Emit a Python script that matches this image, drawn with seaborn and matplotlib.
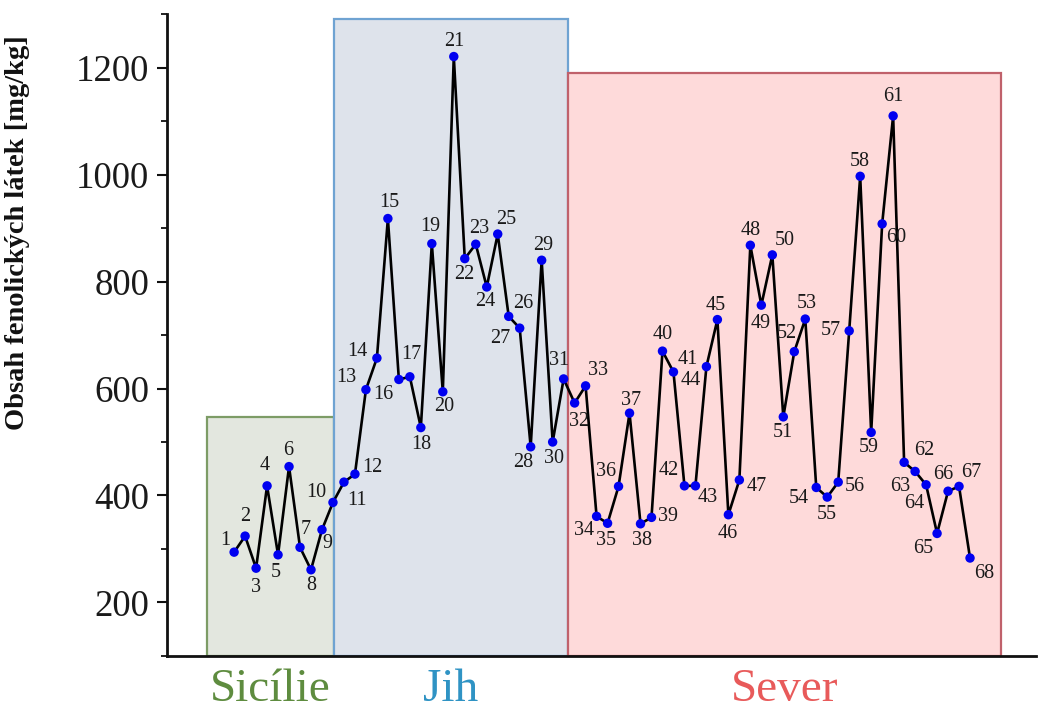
import matplotlib
matplotlib.use("Agg")
import matplotlib.pyplot as plt
from matplotlib.patches import Rectangle
from matplotlib.ticker import MultipleLocator
import seaborn as sns
import pandas as pd

# Phenolic content of 68 samples [mg/kg]
samples = list(range(1, 69))
phenolics = [294, 324, 264, 418, 289, 454, 303, 261, 336, 387,
             425, 440, 598, 657, 918, 617, 622, 527, 871, 594,
             1221, 843, 870, 790, 889, 735, 713, 491, 840, 500,
             618, 573, 605, 361, 348, 417, 554, 347, 359, 670,
             631, 418, 418, 641, 729, 364, 429, 868, 756, 850,
             547, 669, 730, 415, 397, 425, 708, 997, 518, 908,
             1110, 462, 445, 420, 329, 408, 417, 283]

# Regions: name, x-extent (sample axis), height of the shaded block
regions = ["Sicílie", "Jih", "Sever"]
region_x0 = [-1.46, 10.1, 31.4]
region_x1 = [10.1, 31.4, 70.8]
region_top = [547, 1292, 1191]
region_fill = ["#e3e7df", "#dee3eb", "#fedada"]
region_edge = ["#7d9c66", "#6fa3d2", "#c0616b"]
region_text = ["#5e8c3f", "#2f93c4", "#e85a5a"]

# label placement around each point (pixels: right, up)
label_offsets = [(-9, 12), (0, 20), (0, -19), (-2, 20), (-2, -18), (-1, 16), (6, 18), (0, -16),
                 (5, -14), (-17, 10), (13, -18), (17, 7), (-20, 12), (-20, 7), (1, 16), (-16, -15),
                 (1, 22), (0, -17), (-2, 17), (1, -15), (0, 15), (-1, -16), (3, 16), (-1, -15),
                 (8, 15), (15, 13), (-19, -10), (-7, -16), (2, 15), (1, -16), (-5, 18), (4, -19),
                 (12, 15), (-13, -14), (-2, -17), (-12, 15), (2, 13), (1, -17), (17, 1), (0, 17),
                 (14, 12), (-16, 15), (12, -12), (-16, -14), (-2, 14), (-1, -19), (17, -7), (0, 15),
                 (-1, -18), (12, 14), (0, -16), (-7, 18), (1, 16), (-17, -11), (0, -17), (17, -4),
                 (-18, 0), (0, 15), (-2, -15), (14, -14), (0, 19), (20, 12), (-15, -15), (-12, -19),
                 (-14, -15), (-5, 17), (12, 14), (14, -15)]

df = pd.DataFrame({"sample": samples, "phenolics": phenolics})

sns.set_theme(style="white")
plt.rcParams["font.family"] = ["Liberation Serif", "DejaVu Serif"]

fig = plt.figure(figsize=(10.38, 7.16), dpi=100)
ax = fig.add_axes([0.161, 0.084, 0.837, 0.896])

for x0, x1, top, fc, ec in zip(region_x0, region_x1, region_top, region_fill, region_edge):
    ax.add_patch(Rectangle((x0, 100), x1 - x0, top - 100, facecolor=fc,
                           edgecolor=ec, linewidth=1.6, zorder=1))

sns.lineplot(data=df, x="sample", y="phenolics", color="black", linewidth=1.9,
             ax=ax, zorder=3, sort=False)
sns.scatterplot(data=df, x="sample", y="phenolics", color="#0000f0", s=46,
                edgecolor="none", ax=ax, zorder=4)

px2pt = 0.72
for s, v, (dx, dy) in zip(samples, phenolics, label_offsets):
    ax.annotate(str(s), (s, v), xytext=(dx * px2pt, dy * px2pt), textcoords="offset points",
                ha="center", va="center", fontsize=14.5, color="#1a1a1a", zorder=5)

ax.set_xlim(-5.1, 74.0)
ax.set_ylim(100, 1300)
ax.yaxis.set_major_locator(MultipleLocator(200))
ax.yaxis.set_minor_locator(MultipleLocator(100))
ax.set_yticks([200, 400, 600, 800, 1000, 1200])
ax.tick_params(axis="y", which="major", length=7, width=1.5, labelsize=26.5, pad=6,
               left=True, color="#111111", labelcolor="#1a1a1a")
ax.tick_params(axis="y", which="minor", length=4, width=1.3, left=True, color="#111111")

centers = [(a + b) / 2 for a, b in zip(region_x0, region_x1)]
ax.set_xticks(centers)
ax.set_xticklabels(regions, fontsize=34)
ax.tick_params(axis="x", length=0, pad=9)
for lbl, c in zip(ax.get_xticklabels(), region_text):
    lbl.set_color(c)

ax.set_xlabel("")
ax.set_ylabel("Obsah fenolických látek [mg/kg]", fontsize=20.5, fontweight="bold",
              color="#111111")
ax.yaxis.set_label_coords(-0.158, 0.66)

for side in ["top", "right"]:
    ax.spines[side].set_visible(False)
for side in ["left", "bottom"]:
    ax.spines[side].set_linewidth(2)
    ax.spines[side].set_color("#111111")
ax.grid(False)

fig.savefig("out.png", dpi=100)
